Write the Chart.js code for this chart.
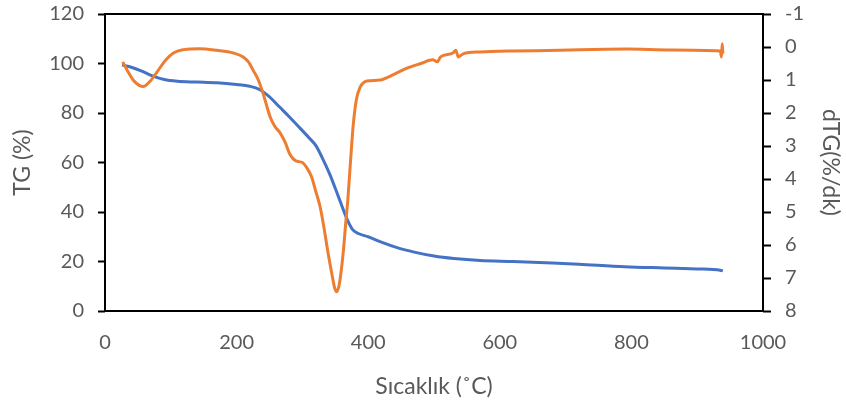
<!DOCTYPE html>
<html>
<head>
<meta charset="utf-8">
<script src="https://cdn.jsdelivr.net/npm/chart.js@4/dist/chart.umd.min.js"></script>
<style>
  html, body { margin: 0; padding: 0; background: #fff; }
  #wrap { width: 846px; height: 410px; }
</style>
</head>
<body>
<div id="wrap"><canvas id="chart"></canvas></div>
<script>
// TG curve: temperature (°C) and remaining mass (%)
const tgTemp = [26, 40, 55, 70, 90, 110, 140, 170, 200, 220, 235, 250, 265, 280, 296, 310, 320, 330, 342, 355, 368, 376, 385, 400, 420, 445, 470, 500, 530, 570, 620, 680, 720, 790, 850, 900, 935, 939];
const tgValue = [99.4, 98.5, 97, 95.2, 93.5, 92.8, 92.5, 92.2, 91.5, 90.8, 89.5, 86.5, 82.5, 78.5, 74, 70, 67, 62, 55, 46, 37, 33, 31.3, 30, 27.8, 25.5, 23.8, 22.2, 21.2, 20.4, 20, 19.4, 18.9, 17.9, 17.4, 17, 16.5, 16.2];

// dTG curve: temperature (°C) and mass loss rate (%/dk)
const dtgTemp = [27, 35, 45, 58, 68, 79, 92, 104, 120, 144, 170, 195, 210, 218, 225, 233, 240, 246, 251, 258, 266, 274, 281, 290, 300, 308, 314, 320, 327, 333, 339, 345, 349, 352, 356, 362, 366, 369, 373, 377, 382, 388, 393, 398, 418, 440, 459, 480, 498, 505, 510, 529, 533, 537, 545, 570, 620, 691, 722, 793, 860, 935, 937, 938, 939];
const dtgValue = [0.45, 0.75, 1.05, 1.2, 1.05, 0.76, 0.4, 0.18, 0.08, 0.05, 0.1, 0.18, 0.3, 0.45, 0.7, 1.0, 1.39, 1.8, 2.12, 2.4, 2.6, 2.9, 3.25, 3.45, 3.5, 3.7, 3.94, 4.35, 4.85, 5.5, 6.24, 6.9, 7.3, 7.42, 7.2, 6.24, 5.3, 4.64, 3.5, 2.42, 1.6, 1.21, 1.08, 1.03, 1.0, 0.82, 0.64, 0.5, 0.39, 0.45, 0.3, 0.18, 0.1, 0.3, 0.2, 0.15, 0.12, 0.1, 0.08, 0.06, 0.09, 0.12, 0.3, -0.1, 0.2];

// tick ranges
const xTicks = { min: 0, max: 1000, step: 200 };
const tgTicks = { min: 0, max: 120, step: 20 };
const dtgTicks = { min: -1, max: 8, step: 1 };

const toPoints = (xs, ys) => xs.map((x, i) => ({ x: x, y: ys[i] }));

const grey = '#595959';
const fontFamily = 'Lato, "Open Sans", sans-serif';
const tickFont = { family: fontFamily, size: 20 };
const titleFont = { family: fontFamily, size: 23 };

// box around the plot area
const frame = {
  id: 'frame',
  afterDatasetsDraw(chart) {
    const a = chart.chartArea;
    const c = chart.ctx;
    c.save();
    c.strokeStyle = '#000';
    c.lineWidth = 2;
    c.strokeRect(a.left, a.top, a.right - a.left, a.bottom - a.top);
    c.restore();
  }
};

// fixed width for a vertical axis, no extra room above/below for labels
const fixWidth = w => s => { s.width = w; s.paddingTop = 0; s.paddingBottom = 0; };

const ctx = document.getElementById('chart').getContext('2d');
new Chart(ctx, {
  type: 'line',
  data: {
    datasets: [{
      label: 'dTG',
      data: toPoints(dtgTemp, dtgValue),
      yAxisID: 'y2',
      borderColor: '#ED7D31',
      borderWidth: 3,
      pointRadius: 0,
      cubicInterpolationMode: 'monotone',
      fill: false
    }, {
      label: 'TG',
      data: toPoints(tgTemp, tgValue),
      yAxisID: 'y',
      borderColor: '#4472C4',
      borderWidth: 3,
      pointRadius: 0,
      cubicInterpolationMode: 'monotone',
      fill: false
    }]
  },
  options: {
    responsive: true,
    maintainAspectRatio: false,
    animation: false,
    layout: { padding: { top: 14, left: 0, right: 0, bottom: 0 } },
    plugins: { legend: { display: false }, tooltip: { enabled: false } },
    scales: {
      x: {
        type: 'linear',
        min: xTicks.min,
        max: xTicks.max,
        afterFit(s) { s.height = 99; },
        ticks: { stepSize: xTicks.step, color: grey, font: tickFont, padding: 20, maxRotation: 0, callback: v => String(v) },
        grid: { display: false, drawTicks: false },
        border: { display: false },
        title: { display: true, text: 'Sıcaklık (˚C)', color: grey, font: titleFont, padding: { top: 4, bottom: 10 } }
      },
      y: {
        position: 'left',
        min: tgTicks.min,
        max: tgTicks.max,
        afterFit: fixWidth(105),
        ticks: { stepSize: tgTicks.step, color: grey, font: tickFont, padding: 14 },
        grid: { drawOnChartArea: false, tickLength: 7, color: '#000', tickWidth: 2 },
        border: { display: false },
        title: { display: true, text: 'TG (%)', color: grey, font: titleFont, padding: { top: 9, bottom: 9 } }
      },
      y2: {
        position: 'right',
        reverse: true,
        min: dtgTicks.min,
        max: dtgTicks.max,
        afterFit: fixWidth(83),
        ticks: { stepSize: dtgTicks.step, color: grey, font: tickFont, padding: 14 },
        grid: { drawOnChartArea: false, tickLength: 8, color: '#000', tickWidth: 2 },
        border: { display: false },
        title: { display: true, text: 'dTG(%/dk)', color: grey, font: titleFont, padding: { top: 2, bottom: 2 } }
      }
    }
  },
  plugins: [frame]
});
</script>
</body>
</html>
